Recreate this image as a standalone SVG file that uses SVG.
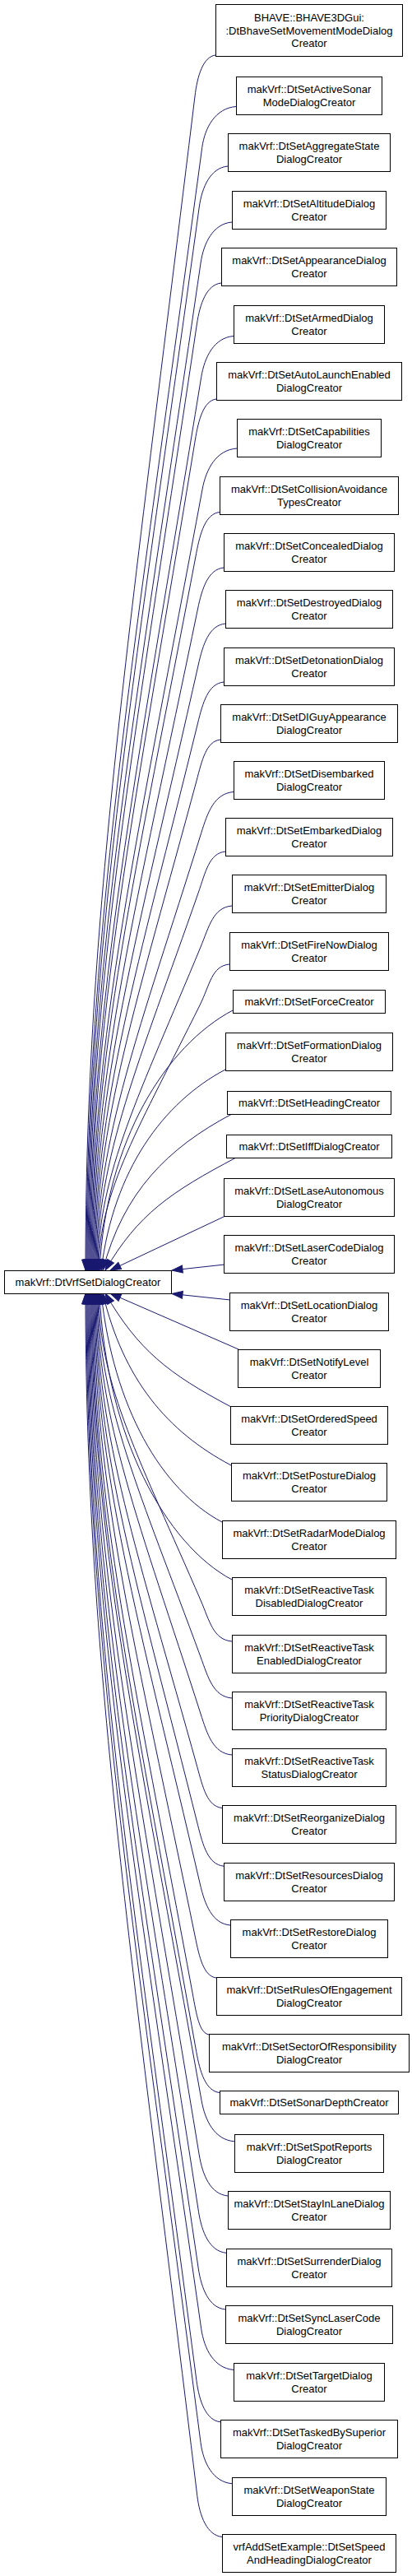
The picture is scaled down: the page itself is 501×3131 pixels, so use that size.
<svg xmlns="http://www.w3.org/2000/svg" width="501" height="3131" viewBox="0 0 501 3131">
<style>
.node rect{fill:#fff;stroke:#000;stroke-width:1}
.node text{font-family:"Liberation Sans",Arial,sans-serif;font-size:13px;text-anchor:middle;fill:#000}
.edge{fill:none;stroke:#191970;stroke-width:1;marker-end:url(#ah)}
</style>
<defs>
<marker id="ah" markerUnits="userSpaceOnUse" markerWidth="15" markerHeight="11" viewBox="-1 -1 15 11" refX="13" refY="4.5" orient="auto"><path d="M0,0 L13,4.5 L0,9 Z" fill="#191970" stroke="#191970"/></marker>
</defs>
<rect width="501" height="3131" fill="#fff"/>
<g id="edges">
<path class="edge" d="M262,67 C247,69 240,92 237,117 C159.2,759.2 104,1115.9 104,1544"/>
<path class="edge" d="M287,129.5 C262.2,131.5 249.1,154.5 245.7,179.5 C163.4,793.5 105,1134.6 105,1544"/>
<path class="edge" d="M277,202 C256.1,204 245.6,227 242.2,252 C162.5,833.4 106,1156.4 106,1544"/>
<path class="edge" d="M282,270 C259.2,272 247.6,295 244,320 C163.9,870.8 107,1176.8 107,1544"/>
<path class="edge" d="M269,344 C251.2,346 243.1,369 239.4,394 C162.5,911.5 108,1199 108,1544"/>
<path class="edge" d="M284,408.5 C260.4,410.5 248.8,433.5 244.7,458.5 C165.3,947 109,1218.3 109,1544"/>
<path class="edge" d="M263,485 C247.6,487 241.4,510 237.3,535 C162.8,989 110,1241.3 110,1544"/>
<path class="edge" d="M288,545 C262.8,547 250.6,570 246,595 C167,1022 111,1259.3 111,1544"/>
<path class="edge" d="M267,622.5 C250,624.5 243.4,647.5 238.7,672.5 C164.6,1064.7 112,1282.5 112,1544"/>
<path class="edge" d="M272,690 C253.1,692 245.7,715 240.5,740 C165.9,1101.8 113,1302.8 113,1544"/>
<path class="edge" d="M274,758 C254.3,760 246.8,783 241.2,808 C166.8,1139.2 114,1323.2 114,1544"/>
<path class="edge" d="M272,829 C253.1,831 246.6,854 240.5,879 C167.1,1178.3 115,1344.5 115,1544"/>
<path class="edge" d="M268,899 C250.6,901 245.7,924 239,949 C167,1216.8 116,1365.5 116,1544"/>
<path class="edge" d="M284,962.5 C260.4,964.5 252.5,987.5 244.7,1012.5 C170,1251.7 117,1384.5 117,1544"/>
<path class="edge" d="M274,1035 C254.3,1037 249.9,1060 241.2,1085 C169.1,1291.6 118,1406.3 118,1544"/>
<path class="edge" d="M282,1101 C259.2,1103 254.3,1126 244,1151 C170.9,1327.9 119,1426.1 119,1544"/>
<path class="edge" d="M279,1172 C257.3,1174 255.3,1197 242.9,1222 C171,1366.9 120,1447.4 120,1544"/>
<path class="edge" d="M283,1228 C202,1270.9 129,1386 121,1544"/>
<path class="edge" d="M274,1300 C198.5,1340 138,1422 123,1544"/>
<path class="edge" d="M282,1354 C203.5,1395.6 150,1449 125,1544"/>
<path class="edge" d="M287,1407 C207.5,1449.1 168,1475.5 128,1544"/>
<path class="edge" d="M274,1478 C227.3,1500 180.7,1522 134,1544"/>
<path class="edge" d="M273,1537 L209,1544"/>
<path class="edge" d="M280,1580 L209,1572.5"/>
<path class="edge" d="M290,1640 C238,1617.3 186,1594.7 134,1572"/>
<path class="edge" d="M281,1710 C204.5,1669.5 168,1641 128,1572"/>
<path class="edge" d="M281,1781 C203,1739.7 150,1676.5 125,1572"/>
<path class="edge" d="M270,1850 C196.5,1811 138,1711 123,1572"/>
<path class="edge" d="M282,1920 C201.5,1877.3 129,1746 121,1572"/>
<path class="edge" d="M282,1995 C259.2,1993 254.8,1970 244,1945 C171.5,1777.1 120,1683.9 120,1572"/>
<path class="edge" d="M282,2064 C259.2,2062 253.2,2039 244,2014 C170.9,1815.1 119,1704.6 119,1572"/>
<path class="edge" d="M282,2133 C259.2,2131 252,2108 244,2083 C170.3,1853 118,1725.3 118,1572"/>
<path class="edge" d="M270,2197.5 C251.9,2195.5 246.7,2172.5 239.8,2147.5 C168,1888.5 117,1744.7 117,1572"/>
<path class="edge" d="M272,2268.2 C253.1,2266.2 246.8,2243.2 240.5,2218.2 C167.7,1927.4 116,1765.9 116,1572"/>
<path class="edge" d="M280,2340 C258,2338 249.1,2315 243.3,2290 C168.2,1966.9 115,1787.4 115,1572"/>
<path class="edge" d="M263,2404 C247.6,2402 242.4,2379 237.3,2354 C165.2,2002.1 114,1806.6 114,1572"/>
<path class="edge" d="M254,2473 C242.2,2471 238.8,2448 234.2,2423 C163.3,2040 113,1827.3 113,1572"/>
<path class="edge" d="M267,2543.5 C250,2541.5 243.2,2518.5 238.7,2493.5 C164.6,2078.8 112,1848.5 112,1572"/>
<path class="edge" d="M285,2602.8 C261,2600.8 249.4,2577.8 245,2552.8 C166.6,2111.4 111,1866.2 111,1572"/>
<path class="edge" d="M277,2669 C256.1,2667 246.3,2644 242.2,2619 C164.9,2147.8 110,1886.1 110,1572"/>
<path class="edge" d="M275,2738.3 C254.9,2736.3 245.4,2713.3 241.5,2688.3 C164,2186 109,1906.9 109,1572"/>
<path class="edge" d="M274,2807 C254.3,2805 244.9,2782 241.2,2757 C163.3,2223.7 108,1927.5 108,1572"/>
<path class="edge" d="M284,2880.4 C260.4,2878.4 248.3,2855.4 244.7,2830.4 C164.1,2264.1 107,1949.5 107,1572"/>
<path class="edge" d="M268,2943.8 C250.6,2941.8 242.3,2918.8 239,2893.8 C161.2,2299 106,1968.5 106,1572"/>
<path class="edge" d="M282,3018.7 C259.2,3016.7 247.2,2993.7 244,2968.7 C162.7,2340.2 105,1991 105,1572"/>
<path class="edge" d="M270,3083.5 C251.9,3081.5 242.8,3058.5 239.8,3033.5 C160.4,2375.8 104,2010.5 104,1572"/>
</g>
<g id="base" class="node"><rect x="5.5" y="1544.5" width="203" height="28"/><text x="107" y="1563">makVrf::DtVrfSetDialogCreator</text></g>
<g id="n1" class="node"><rect x="262.5" y="5.5" width="227" height="63"/><text x="376" y="26">BHAVE::BHAVE3DGui:</text><text x="376" y="41.5">:DtBhaveSetMovementModeDialog</text><text x="376" y="57">Creator</text></g>
<g id="n2" class="node"><rect x="287.5" y="93.5" width="177" height="46"/><text x="376" y="113">makVrf::DtSetActiveSonar</text><text x="376" y="128.5">ModeDialogCreator</text></g>
<g id="n3" class="node"><rect x="277.5" y="162.5" width="197" height="46"/><text x="376" y="182">makVrf::DtSetAggregateState</text><text x="376" y="197.5">DialogCreator</text></g>
<g id="n4" class="node"><rect x="282.5" y="232.5" width="187" height="46"/><text x="376" y="252">makVrf::DtSetAltitudeDialog</text><text x="376" y="267.5">Creator</text></g>
<g id="n5" class="node"><rect x="269.5" y="301.5" width="213" height="46"/><text x="376" y="321">makVrf::DtSetAppearanceDialog</text><text x="376" y="336.5">Creator</text></g>
<g id="n6" class="node"><rect x="284.5" y="371.5" width="183" height="46"/><text x="376" y="391">makVrf::DtSetArmedDialog</text><text x="376" y="406.5">Creator</text></g>
<g id="n7" class="node"><rect x="263.5" y="440.5" width="225" height="46"/><text x="376" y="460">makVrf::DtSetAutoLaunchEnabled</text><text x="376" y="475.5">DialogCreator</text></g>
<g id="n8" class="node"><rect x="288.5" y="509.5" width="175" height="46"/><text x="376" y="529">makVrf::DtSetCapabilities</text><text x="376" y="544.5">DialogCreator</text></g>
<g id="n9" class="node"><rect x="267.5" y="579.5" width="217" height="46"/><text x="376" y="599">makVrf::DtSetCollisionAvoidance</text><text x="376" y="614.5">TypesCreator</text></g>
<g id="n10" class="node"><rect x="272.5" y="648.5" width="207" height="46"/><text x="376" y="668">makVrf::DtSetConcealedDialog</text><text x="376" y="683.5">Creator</text></g>
<g id="n11" class="node"><rect x="274.5" y="717.5" width="203" height="46"/><text x="376" y="737">makVrf::DtSetDestroyedDialog</text><text x="376" y="752.5">Creator</text></g>
<g id="n12" class="node"><rect x="272.5" y="787.5" width="207" height="46"/><text x="376" y="807">makVrf::DtSetDetonationDialog</text><text x="376" y="822.5">Creator</text></g>
<g id="n13" class="node"><rect x="268.5" y="856.5" width="215" height="46"/><text x="376" y="876">makVrf::DtSetDIGuyAppearance</text><text x="376" y="891.5">DialogCreator</text></g>
<g id="n14" class="node"><rect x="284.5" y="925.5" width="183" height="46"/><text x="376" y="945">makVrf::DtSetDisembarked</text><text x="376" y="960.5">DialogCreator</text></g>
<g id="n15" class="node"><rect x="274.5" y="994.5" width="203" height="46"/><text x="376" y="1014">makVrf::DtSetEmbarkedDialog</text><text x="376" y="1029.5">Creator</text></g>
<g id="n16" class="node"><rect x="282.5" y="1063.5" width="187" height="46"/><text x="376" y="1083">makVrf::DtSetEmitterDialog</text><text x="376" y="1098.5">Creator</text></g>
<g id="n17" class="node"><rect x="279.5" y="1133.5" width="193" height="46"/><text x="376" y="1153">makVrf::DtSetFireNowDialog</text><text x="376" y="1168.5">Creator</text></g>
<g id="n18" class="node"><rect x="283.5" y="1203.5" width="185" height="28"/><text x="376" y="1222">makVrf::DtSetForceCreator</text></g>
<g id="n19" class="node"><rect x="274.5" y="1255.5" width="203" height="46"/><text x="376" y="1275">makVrf::DtSetFormationDialog</text><text x="376" y="1290.5">Creator</text></g>
<g id="n20" class="node"><rect x="276.5" y="1326.5" width="199" height="28"/><text x="376" y="1345">makVrf::DtSetHeadingCreator</text></g>
<g id="n21" class="node"><rect x="275.5" y="1379.5" width="201" height="28"/><text x="376" y="1398">makVrf::DtSetIffDialogCreator</text></g>
<g id="n22" class="node"><rect x="272.5" y="1432.5" width="207" height="46"/><text x="376" y="1452">makVrf::DtSetLaseAutonomous</text><text x="376" y="1467.5">DialogCreator</text></g>
<g id="n23" class="node"><rect x="272.5" y="1501.5" width="207" height="46"/><text x="376" y="1521">makVrf::DtSetLaserCodeDialog</text><text x="376" y="1536.5">Creator</text></g>
<g id="n24" class="node"><rect x="279.5" y="1571.5" width="193" height="46"/><text x="376" y="1591">makVrf::DtSetLocationDialog</text><text x="376" y="1606.5">Creator</text></g>
<g id="n25" class="node"><rect x="289.5" y="1640.5" width="173" height="46"/><text x="376" y="1660">makVrf::DtSetNotifyLevel</text><text x="376" y="1675.5">Creator</text></g>
<g id="n26" class="node"><rect x="280.5" y="1709.5" width="191" height="46"/><text x="376" y="1729">makVrf::DtSetOrderedSpeed</text><text x="376" y="1744.5">Creator</text></g>
<g id="n27" class="node"><rect x="281.5" y="1778.5" width="189" height="46"/><text x="376" y="1798">makVrf::DtSetPostureDialog</text><text x="376" y="1813.5">Creator</text></g>
<g id="n28" class="node"><rect x="270.5" y="1848.5" width="211" height="46"/><text x="376" y="1868">makVrf::DtSetRadarModeDialog</text><text x="376" y="1883.5">Creator</text></g>
<g id="n29" class="node"><rect x="282.5" y="1917.5" width="187" height="46"/><text x="376" y="1937">makVrf::DtSetReactiveTask</text><text x="376" y="1952.5">DisabledDialogCreator</text></g>
<g id="n30" class="node"><rect x="282.5" y="1987.5" width="187" height="46"/><text x="376" y="2007">makVrf::DtSetReactiveTask</text><text x="376" y="2022.5">EnabledDialogCreator</text></g>
<g id="n31" class="node"><rect x="282.5" y="2056.5" width="187" height="46"/><text x="376" y="2076">makVrf::DtSetReactiveTask</text><text x="376" y="2091.5">PriorityDialogCreator</text></g>
<g id="n32" class="node"><rect x="282.5" y="2125.5" width="187" height="46"/><text x="376" y="2145">makVrf::DtSetReactiveTask</text><text x="376" y="2160.5">StatusDialogCreator</text></g>
<g id="n33" class="node"><rect x="270.5" y="2194.5" width="211" height="46"/><text x="376" y="2214">makVrf::DtSetReorganizeDialog</text><text x="376" y="2229.5">Creator</text></g>
<g id="n34" class="node"><rect x="272.5" y="2264.5" width="207" height="46"/><text x="376" y="2284">makVrf::DtSetResourcesDialog</text><text x="376" y="2299.5">Creator</text></g>
<g id="n35" class="node"><rect x="280.5" y="2333.5" width="191" height="46"/><text x="376" y="2353">makVrf::DtSetRestoreDialog</text><text x="376" y="2368.5">Creator</text></g>
<g id="n36" class="node"><rect x="263.5" y="2403.5" width="225" height="46"/><text x="376" y="2423">makVrf::DtSetRulesOfEngagement</text><text x="376" y="2438.5">DialogCreator</text></g>
<g id="n37" class="node"><rect x="254.5" y="2472.5" width="243" height="46"/><text x="376" y="2492">makVrf::DtSetSectorOfResponsibility</text><text x="376" y="2507.5">DialogCreator</text></g>
<g id="n38" class="node"><rect x="267.5" y="2541.5" width="217" height="28"/><text x="376" y="2560">makVrf::DtSetSonarDepthCreator</text></g>
<g id="n39" class="node"><rect x="285.5" y="2594.5" width="181" height="46"/><text x="376" y="2614">makVrf::DtSetSpotReports</text><text x="376" y="2629.5">DialogCreator</text></g>
<g id="n40" class="node"><rect x="277.5" y="2663.5" width="197" height="46"/><text x="376" y="2683">makVrf::DtSetStayInLaneDialog</text><text x="376" y="2698.5">Creator</text></g>
<g id="n41" class="node"><rect x="275.5" y="2733.5" width="201" height="46"/><text x="376" y="2753">makVrf::DtSetSurrenderDialog</text><text x="376" y="2768.5">Creator</text></g>
<g id="n42" class="node"><rect x="274.5" y="2802.5" width="203" height="46"/><text x="376" y="2822">makVrf::DtSetSyncLaserCode</text><text x="376" y="2837.5">DialogCreator</text></g>
<g id="n43" class="node"><rect x="284.5" y="2872.5" width="183" height="46"/><text x="376" y="2892">makVrf::DtSetTargetDialog</text><text x="376" y="2907.5">Creator</text></g>
<g id="n44" class="node"><rect x="268.5" y="2941.5" width="215" height="46"/><text x="376" y="2961">makVrf::DtSetTaskedBySuperior</text><text x="376" y="2976.5">DialogCreator</text></g>
<g id="n45" class="node"><rect x="282.5" y="3011.5" width="187" height="46"/><text x="376" y="3031">makVrf::DtSetWeaponState</text><text x="376" y="3046.5">DialogCreator</text></g>
<g id="n46" class="node"><rect x="270.5" y="3080.5" width="211" height="46"/><text x="376" y="3100">vrfAddSetExample::DtSetSpeed</text><text x="376" y="3115.5">AndHeadingDialogCreator</text></g>
</svg>
